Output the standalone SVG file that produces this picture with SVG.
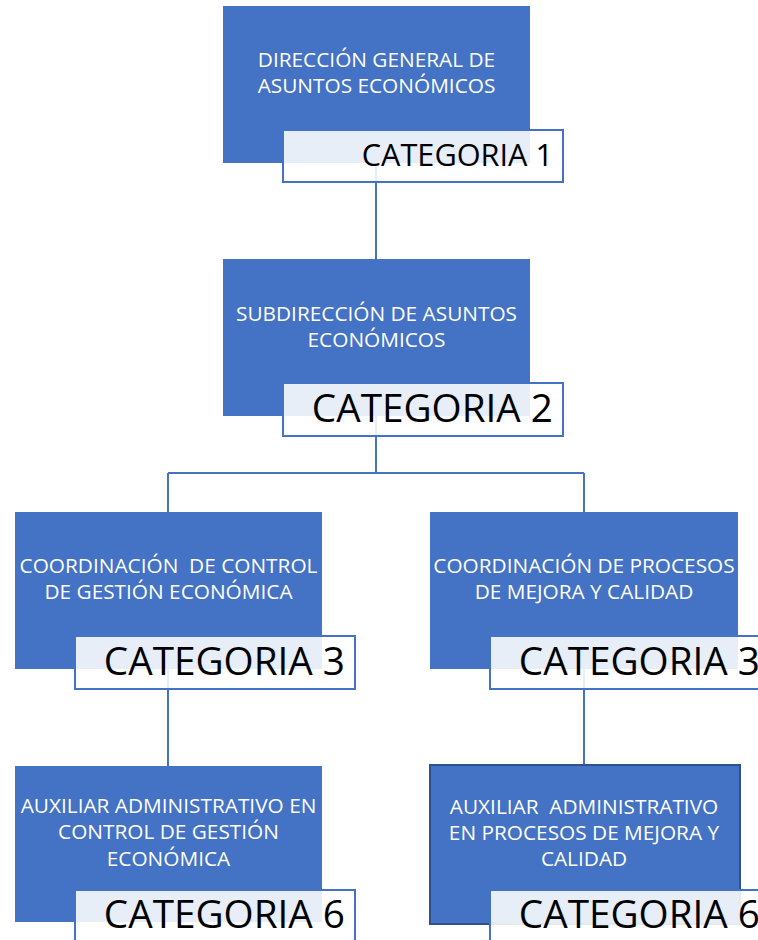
<svg xmlns="http://www.w3.org/2000/svg" width="758" height="940" viewBox="0 0 758 940">
  <style>
    .box { fill: #4472c4; }
    .box-strong { fill: #4472c4; stroke: #2f528f; stroke-width: 2; }
    .tag { fill: #ffffff; fill-opacity: 0.88; stroke: #4472c4; stroke-width: 2; }
    .title { font-family: "Open Sans", "Liberation Sans", sans-serif; font-size: 20.8px; fill: #ffffff; text-anchor: middle; white-space: pre; }
    .cat { font-family: "Open Sans", "Liberation Sans", sans-serif; font-size: 38.7px; fill: #000000; text-anchor: end; }
    .cat-sm { font-size: 30.7px; }
    .link { fill: none; stroke: #4472c4; stroke-width: 2; }
  </style>

  <!-- connectors (drawn first so the translucent tags sit on top) -->
  <g id="connectors">
    <path class="link" d="M376,163 V259"/>
    <path class="link" d="M376,416 V473 M168,473 H584 M168,473 V512 M584,473 V512"/>
    <path class="link" d="M168,669 V766"/>
    <path class="link" d="M584,669 V765"/>
  </g>

  <g id="direccion-general">
    <rect class="box" x="223" y="6" width="307" height="157"/>
    <text class="title" x="376.5" y="67">DIRECCIÓN GENERAL DE</text>
    <text class="title" x="376.5" y="93">ASUNTOS ECONÓMICOS</text>
    <rect class="tag" x="283" y="130" width="280" height="52"/>
    <text class="cat cat-sm" x="553" y="166">CATEGORIA 1</text>
  </g>

  <g id="subdireccion">
    <rect class="box" x="223" y="259" width="307" height="157"/>
    <text class="title" x="376.5" y="321">SUBDIRECCIÓN DE ASUNTOS</text>
    <text class="title" x="376.5" y="347">ECONÓMICOS</text>
    <rect class="tag" x="283" y="383" width="280" height="53"/>
    <text class="cat" x="553" y="422">CATEGORIA 2</text>
  </g>

  <g id="coord-control">
    <rect class="box" x="15" y="512" width="307" height="157"/>
    <text class="title" x="168.5" y="573" xml:space="preserve">COORDINACIÓN  DE CONTROL</text>
    <text class="title" x="168.5" y="599">DE GESTIÓN ECONÓMICA</text>
    <rect class="tag" x="75" y="636" width="280" height="53"/>
    <text class="cat" x="345" y="675">CATEGORIA 3</text>
  </g>

  <g id="coord-procesos">
    <rect class="box" x="430" y="512" width="308" height="157"/>
    <text class="title" x="584" y="573">COORDINACIÓN DE PROCESOS</text>
    <text class="title" x="584" y="599">DE MEJORA Y CALIDAD</text>
    <rect class="tag" x="490" y="636" width="280" height="53"/>
    <text class="cat" x="760" y="675">CATEGORIA 3</text>
  </g>

  <g id="aux-control">
    <rect class="box" x="15" y="766" width="307" height="156"/>
    <text class="title" x="168.5" y="813">AUXILIAR ADMINISTRATIVO EN</text>
    <text class="title" x="168.5" y="839">CONTROL DE GESTIÓN</text>
    <text class="title" x="168.5" y="866">ECONÓMICA</text>
    <rect class="tag" x="75" y="890" width="280" height="60"/>
    <text class="cat" x="345" y="928">CATEGORIA 6</text>
  </g>

  <g id="aux-procesos">
    <rect class="box-strong" x="430" y="765" width="310" height="159"/>
    <text class="title" x="584" y="814" xml:space="preserve">AUXILIAR  ADMINISTRATIVO</text>
    <text class="title" x="584" y="840">EN PROCESOS DE MEJORA Y</text>
    <text class="title" x="584" y="866">CALIDAD</text>
    <rect class="tag" x="490" y="890" width="280" height="60"/>
    <text class="cat" x="760" y="928">CATEGORIA 6</text>
  </g>
</svg>
